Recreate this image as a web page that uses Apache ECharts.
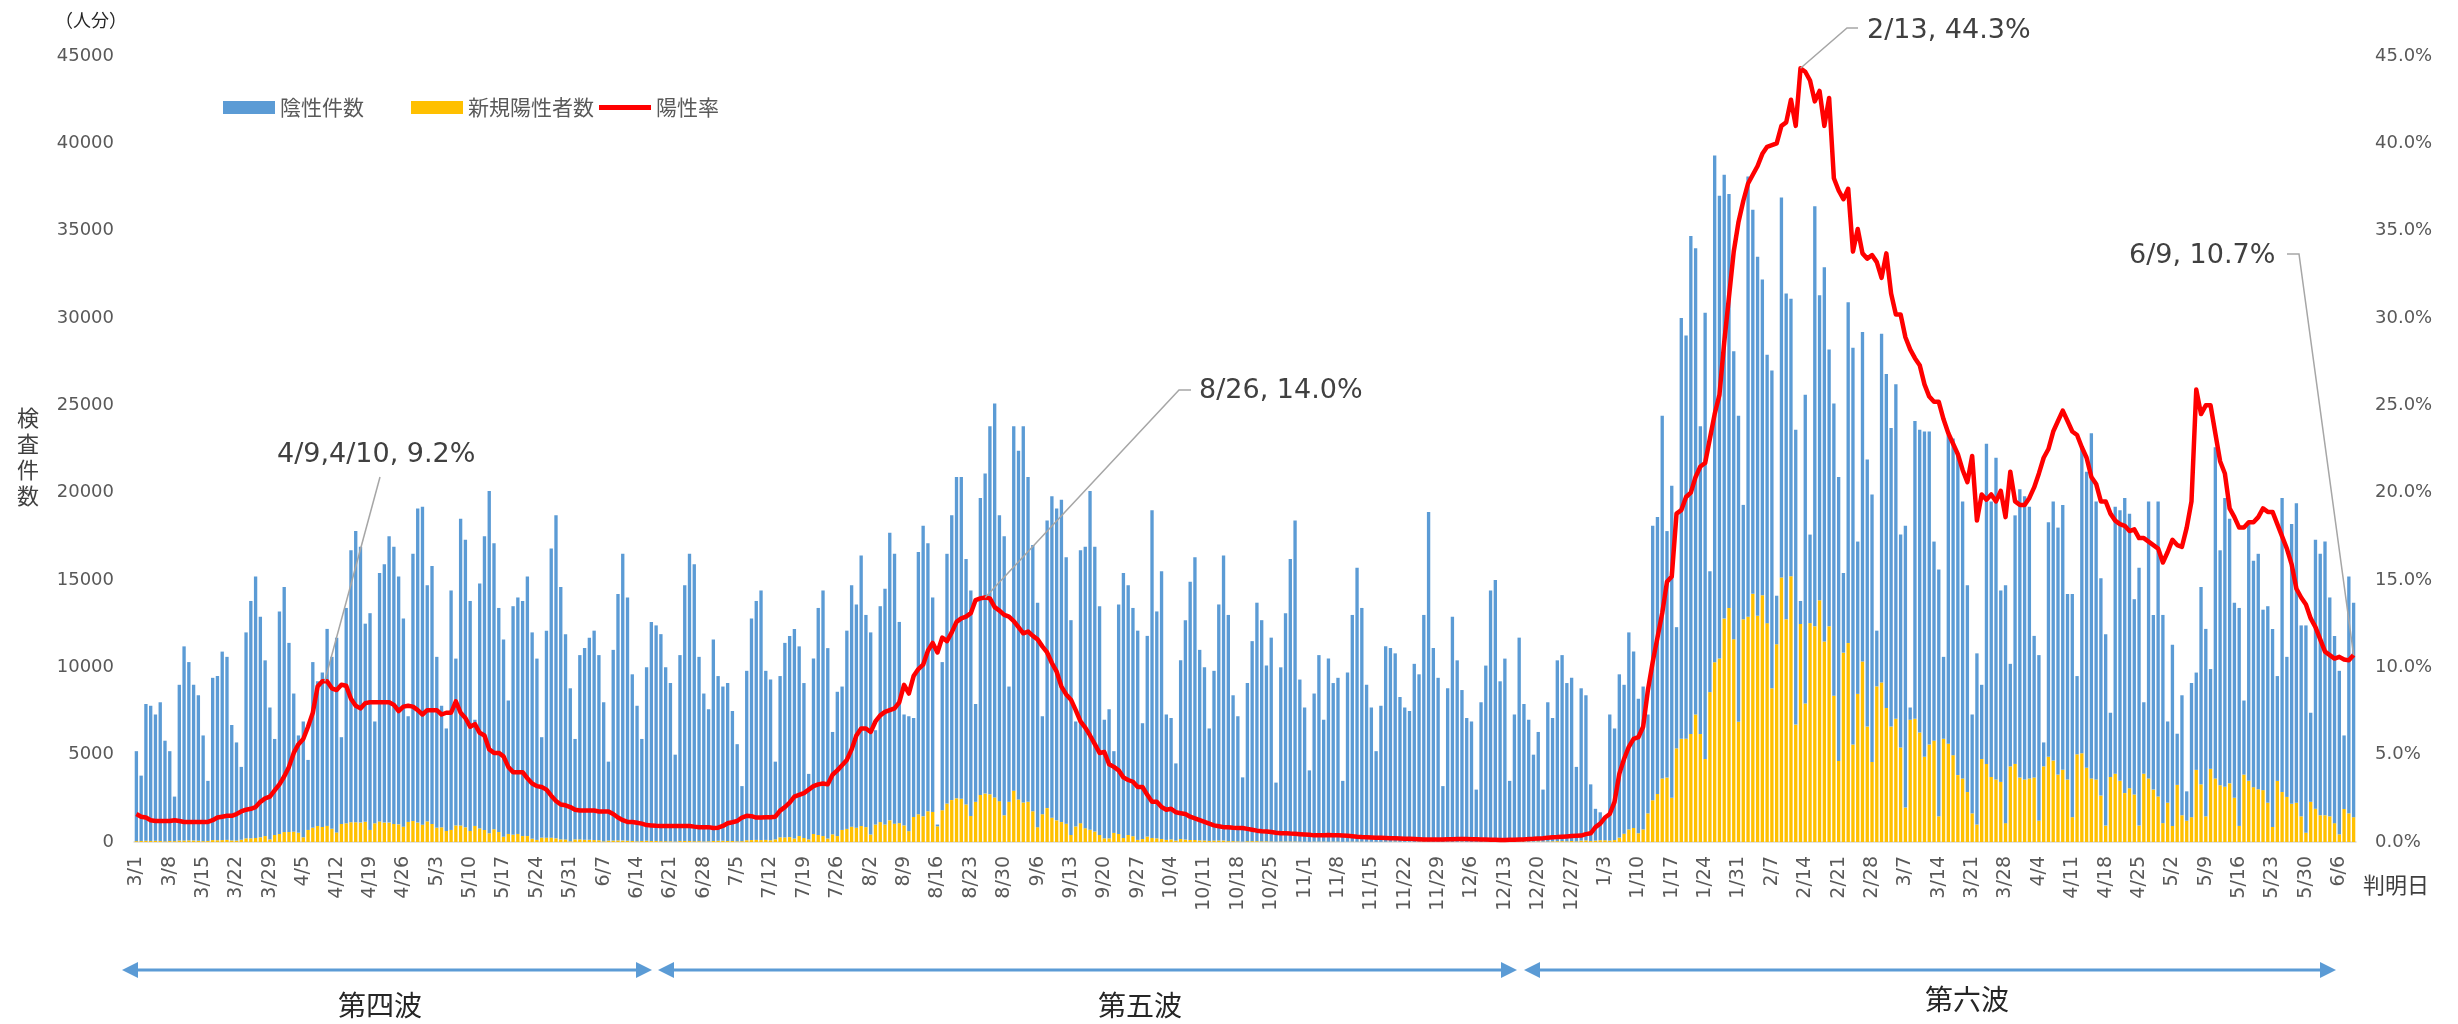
<!DOCTYPE html>
<html>
<head>
<meta charset="utf-8">
<title>検査件数と陽性率</title>
<script src="https://cdn.jsdelivr.net/npm/echarts@6/dist/echarts.min.js"></script>
<style>
	html, body { margin: 0; padding: 0; background: #fff; }
	#myChart { width: 2458px; height: 1024px; }
</style>
</head>
<body>
<div id="myChart"></div>
<script type="text/javascript">
// 判明日 2021/3/1 ～ 2022/6/9（1行 = 1週、月曜始まり）
const startDay = [2021, 2, 1];

// 検査件数（棒の高さ = 陰性件数 + 新規陽性者数）
const totalTests = [
	5200, 3800, 7900, 7800, 7300, 8000, 5800,
	5200, 2600, 9000, 11200, 10300, 9000, 8400,
	6100, 3500, 9400, 9500, 10900, 10600, 6700,
	5700, 4300, 12000, 13800, 15200, 12900, 10400,
	7700, 5900, 13200, 14600, 11400, 8500, 6100,
	6900, 4700, 10300, 9200, 9700, 12200, 10600,
	11700, 6000, 13400, 16700, 17800, 16900, 12500,
	13100, 6900, 15400, 15900, 17500, 16900, 15200,
	12800, 7200, 16500, 19100, 19200, 14700, 15800,
	10600, 7800, 6500, 14400, 10500, 18500, 17300,
	13800, 7000, 14800, 17500, 20100, 17100, 13400,
	11600, 8100, 13500, 14000, 13800, 15200, 12000,
	10500, 6000, 12100, 16800, 18700, 14600, 11900,
	8800, 5900, 10700, 11100, 11700, 12100, 10700,
	8000, 4600, 11000, 14200, 16500, 14000, 9600,
	7800, 5900, 10000, 12600, 12400, 11900, 10000,
	9100, 5000, 10700, 14700, 16500, 15900, 10600,
	8500, 7600, 11600, 9500, 8900, 9100, 7500,
	5600, 3200, 9800, 12800, 13800, 14400, 9800,
	9300, 4600, 9500, 11400, 11800, 12200, 11200,
	9100, 3900, 10500, 13400, 14400, 11100, 6300,
	8600, 8900, 12100, 14700, 13600, 16400, 13000,
	12000, 6400, 13500, 14500, 17700, 16500, 12600,
	7300, 7200, 7100, 16600, 18100, 17100, 14000,
	1000, 10300, 16500, 18700, 20900, 20900, 16200,
	14400, 7900, 19700, 21100, 23800, 25100, 18700,
	17500, 8900, 23800, 22400, 23800, 20900, 17000,
	13700, 7200, 18400, 19800, 19100, 19600, 16300,
	12700, 6900, 16700, 16900, 20100, 16900, 13500,
	7000, 7600, 5200, 13600, 15400, 14700, 13400,
	12100, 6800, 11800, 19000, 13200, 15500, 7300,
	7100, 4500, 10400, 12700, 14900, 16300, 11000,
	10000, 6500, 9800, 13600, 16400, 13000, 8400,
	7200, 3700, 9100, 11500, 13700, 12700, 10100,
	11700, 3400, 10000, 13100, 16200, 18400, 9300,
	7700, 4100, 8500, 10700, 7000, 10500, 9100,
	9400, 3500, 9700, 13000, 15700, 13400, 9000,
	7700, 5200, 7800, 11200, 11100, 10800, 8300,
	7700, 7500, 10200, 9600, 13000, 18900, 11100,
	9400, 3200, 8800, 12900, 10400, 8700, 7100,
	6900, 3000, 8000, 10100, 14400, 15000, 9200,
	10500, 3500, 7300, 11700, 7900, 7000, 5000,
	6300, 3000, 8000, 7100, 10400, 10700, 9100,
	9400, 4300, 8800, 8400, 3300, 1900, 1700,
	1400, 7300, 6500, 9600, 9000, 12000, 10900,
	8200, 8900, 7300, 18100, 18600, 24400, 17800,
	20400, 12300, 30000, 29000, 34700, 34000, 23800,
	30300, 15500, 39300, 37000, 38200, 37100, 28100,
	24400, 19300, 38100, 36200, 33500, 32200, 27900,
	27000, 14100, 36900, 31400, 31100, 23600, 13800,
	25600, 17600, 36400, 31300, 32900, 28200, 25100,
	20900, 15400, 30900, 28300, 17200, 29200, 21900,
	19900, 12100, 29100, 26800, 23700, 26200, 17600,
	18100, 7700, 24100, 23600, 23500, 23500, 17200,
	15600, 10600, 23300, 23100, 22100, 19500, 14700,
	7300, 10800, 9000, 22800, 19500, 22000, 14400,
	14700, 10200, 18700, 20200, 19800, 19200, 11800,
	10700, 5700, 18300, 19500, 18000, 19300, 14200,
	14200, 9500, 22600, 21200, 23400, 19500, 15100,
	11900, 7400, 19200, 19000, 19700, 18800, 13900,
	15700, 8000, 19500, 13000, 19500, 13000, 6900,
	11300, 6200, 8400, 2900, 9100, 9700, 14600,
	12200, 9900, 22600, 16700, 19700, 18500, 13700,
	13400, 8100, 18200, 16100, 16500, 13300, 13500,
	12200, 9500, 19700, 10600, 18200, 19400, 12400,
	12400, 7400, 17300, 16500, 17200, 14000, 11800,
	9800, 6100, 15200, 13700
];

// 新規陽性者数
const newPositives = [
	50, 60, 70, 60, 70, 60, 40,
	60, 50, 80, 80, 90, 80, 70,
	50, 60, 110, 100, 110, 120, 90,
	80, 130, 210, 210, 230, 270, 340,
	150, 400, 460, 570, 570, 590, 530,
	270, 690, 820, 920, 860, 920, 760,
	550, 1030, 1070, 1130, 1130, 1110, 1160,
	690, 1070, 1180, 1110, 1110, 1030, 1010,
	880, 1150, 1200, 1110, 990, 1180, 1030,
	820, 840, 630, 690, 950, 950, 840,
	630, 920, 780, 690, 500, 730, 570,
	300, 460, 420, 460, 340, 340, 190,
	120, 250, 250, 250, 210, 150, 150,
	40, 150, 150, 130, 130, 110, 100,
	40, 80, 80, 90, 80, 70, 60,
	40, 60, 70, 60, 60, 50, 50,
	40, 30, 60, 60, 60, 50, 50,
	30, 40, 60, 70, 70, 60, 60,
	40, 50, 100, 110, 120, 110, 120,
	100, 150, 270, 260, 280, 200, 340,
	230, 150, 460, 400, 340, 200, 440,
	340, 690, 750, 880, 820, 920, 850,
	430, 1000, 1140, 1000, 1240, 1050, 1080,
	950, 620, 1430, 1590, 1470, 1760, 1720,
	900, 1820, 2200, 2400, 2500, 2480, 2150,
	1490, 2300, 2690, 2770, 2730, 2550, 2340,
	1530, 2300, 2940, 2440, 2260, 2300, 1760,
	850, 1590, 1940, 1390, 1240, 1140, 1050,
	400, 890, 1080, 790, 700, 600, 400,
	210, 210, 520, 460, 230, 400, 330,
	120, 170, 310, 230, 210, 170, 120,
	150, 80, 170, 140, 120, 120, 90,
	90, 60, 80, 80, 80, 50, 50,
	40, 20, 50, 50, 50, 40, 40,
	30, 20, 30, 30, 30, 30, 20,
	20, 10, 20, 20, 20, 20, 20,
	20, 10, 10, 20, 20, 20, 10,
	10, 10, 10, 20, 10, 20, 10,
	10, 10, 10, 20, 20, 20, 10,
	10, 10, 10, 20, 10, 20, 10,
	10, 10, 10, 20, 20, 20, 20,
	20, 10, 20, 30, 30, 20, 20,
	30, 20, 30, 40, 50, 50, 40,
	60, 40, 80, 90, 60, 80, 100,
	100, 80, 110, 250, 470, 720, 800,
	500, 720, 1640, 2390, 2750, 3640, 3690,
	2530, 5360, 5910, 5910, 6190, 7300, 6180,
	4750, 8580, 10290, 10510, 12790, 13400, 11610,
	6880, 12750, 12900, 14210, 12960, 14130, 12530,
	8800, 11320, 15150, 12750, 15220, 6720, 12480,
	7930, 12530, 12350, 13840, 11480, 12350, 8370,
	4640, 10840, 11390, 5580, 8480, 10340, 6610,
	4580, 8910, 9130, 7670, 6610, 7050, 5410,
	1970, 7000, 7050, 6270, 4880, 5580, 5800,
	1470, 5910, 5630, 4970, 3830, 3640, 2860,
	1640, 1000, 4750, 4470, 3720, 3580, 3440,
	1080, 4330, 4470, 3690, 3580, 3640, 3690,
	1220, 4330, 4880, 4660, 3860, 4130, 3580,
	1420, 5020, 5080, 4250, 3640, 3580, 2660,
	940, 3720, 3910, 3500, 2800, 3080, 2720,
	940, 3910, 3640, 3000, 2610, 1080, 2250,
	920, 3270, 1530, 1220, 1420, 4130, 3300,
	1470, 4190, 3640, 3250, 3160, 3360, 2530,
	920, 3860, 3500, 3140, 3020, 2970, 2250,
	860, 3500, 2860, 2580, 2190, 2250, 1470,
	530, 2300, 1910, 1530, 1530, 1470, 1080,
	440, 1890, 1640, 1420
];

// 陽性率（%）
const positiveRate = [
	1.6, 1.45, 1.4, 1.25, 1.2, 1.2, 1.2,
	1.2, 1.25, 1.2, 1.15, 1.15, 1.15, 1.15,
	1.15, 1.15, 1.25, 1.4, 1.45, 1.5, 1.5,
	1.6, 1.75, 1.85, 1.9, 2.0, 2.3, 2.5,
	2.6, 2.95, 3.3, 3.75, 4.3, 5.1, 5.6,
	5.9, 6.6, 7.4, 8.9, 9.2, 9.2, 8.8,
	8.7, 9.0, 8.95, 8.2, 7.8, 7.65, 7.95,
	8.0, 8.0, 8.0, 8.0, 8.0, 7.85, 7.5,
	7.75, 7.8, 7.75, 7.55, 7.3, 7.55, 7.55,
	7.55, 7.3, 7.4, 7.4, 8.05, 7.4, 7.1,
	6.6, 6.75, 6.25, 6.1, 5.3, 5.1, 5.1,
	4.9, 4.3, 4.0, 4.0, 4.0, 3.65, 3.35,
	3.2, 3.15, 3.0, 2.65, 2.35, 2.15, 2.1,
	2.0, 1.85, 1.8, 1.8, 1.8, 1.8, 1.75,
	1.75, 1.75, 1.6, 1.4, 1.25, 1.15, 1.15,
	1.1, 1.05, 0.97, 0.95, 0.93, 0.92, 0.92,
	0.92, 0.92, 0.92, 0.92, 0.92, 0.88, 0.85,
	0.85, 0.85, 0.8, 0.82, 0.92, 1.07, 1.13,
	1.2, 1.4, 1.5, 1.48, 1.4, 1.4, 1.42,
	1.42, 1.45, 1.8, 2.0, 2.25, 2.6, 2.7,
	2.8, 3.0, 3.2, 3.3, 3.35, 3.3, 3.85,
	4.1, 4.4, 4.7, 5.3, 6.1, 6.5, 6.5,
	6.3, 6.9, 7.25, 7.45, 7.55, 7.65, 8.0,
	9.0, 8.5, 9.5, 9.9, 10.15, 10.95, 11.4,
	10.85, 11.7, 11.5, 12.0, 12.6, 12.8, 12.9,
	13.1, 13.85, 13.95, 14.0, 13.95, 13.45, 13.25,
	13.0, 12.9, 12.65, 12.3, 11.95, 12.05, 11.8,
	11.6, 11.2, 10.85, 10.25, 9.75, 8.9, 8.45,
	8.15, 7.55, 6.9, 6.55, 6.1, 5.6, 5.1,
	5.15, 4.45, 4.3, 4.1, 3.7, 3.55, 3.45,
	3.15, 3.15, 2.7, 2.3, 2.3, 2.0, 1.85,
	1.9, 1.7, 1.65, 1.6, 1.45, 1.35, 1.25,
	1.15, 1.05, 0.95, 0.9, 0.85, 0.85, 0.82,
	0.8, 0.8, 0.75, 0.7, 0.65, 0.62, 0.6,
	0.57, 0.53, 0.5, 0.5, 0.48, 0.47, 0.45,
	0.43, 0.41, 0.38, 0.38, 0.39, 0.4, 0.39,
	0.38, 0.37, 0.36, 0.33, 0.3, 0.28, 0.27,
	0.26, 0.25, 0.24, 0.23, 0.22, 0.21, 0.2,
	0.19, 0.18, 0.17, 0.16, 0.15, 0.14, 0.14,
	0.15, 0.15, 0.16, 0.16, 0.17, 0.17, 0.17,
	0.16, 0.16, 0.15, 0.14, 0.13, 0.13, 0.12,
	0.12, 0.13, 0.13, 0.14, 0.15, 0.17, 0.18,
	0.2, 0.22, 0.25, 0.27, 0.28, 0.3, 0.32,
	0.34, 0.36, 0.37, 0.45, 0.5, 0.85, 1.05,
	1.4, 1.6, 2.3, 3.9, 4.75, 5.45, 5.9,
	6.0, 6.6, 8.7, 10.3, 11.7, 13.1, 14.9,
	15.2, 18.8, 19.0, 19.75, 20.0, 20.9, 21.5,
	21.7, 23.1, 24.5, 25.6, 28.6, 31.2, 33.8,
	35.5, 36.7, 37.7, 38.2, 38.7, 39.4, 39.8,
	39.9, 40.0, 41.0, 41.2, 42.5, 41.0, 44.3,
	44.1, 43.6, 42.4, 43.0, 41.0, 42.6, 38.0,
	37.3, 36.8, 37.4, 33.8, 35.1, 33.7, 33.4,
	33.6, 33.2, 32.3, 33.7, 31.4, 30.2, 30.2,
	28.9, 28.2, 27.7, 27.3, 26.2, 25.5, 25.2,
	25.2, 24.2, 23.4, 22.8, 22.2, 21.3, 20.6,
	22.1, 18.4, 19.9, 19.6, 19.9, 19.5, 20.1,
	18.6, 21.2, 19.5, 19.3, 19.3, 19.7, 20.3,
	21.1, 22.0, 22.5, 23.5, 24.1, 24.7, 24.1,
	23.5, 23.3, 22.6, 22.0, 20.9, 20.5, 19.5,
	19.5, 18.8, 18.4, 18.2, 18.1, 17.8, 17.9,
	17.4, 17.4, 17.2, 17.0, 16.8, 16.0, 16.6,
	17.3, 17.0, 16.9, 18.0, 19.5, 25.9, 24.5,
	25.0, 25.0, 23.4, 21.8, 21.1, 19.1, 18.6,
	18.0, 18.0, 18.3, 18.3, 18.6, 19.1, 18.9,
	18.9, 18.2, 17.5, 16.8, 15.9, 14.5, 14.0,
	13.6, 12.8, 12.3, 11.6, 10.9, 10.7, 10.5,
	10.6, 10.45, 10.4, 10.7
];

// 吹き出し（日付インデックス、表示文字）
const callouts = [
	{ idx: [39, 40], text: '4/9,4/10, 9.2%' },
	{ idx: [178], text: '8/26, 14.0%' },
	{ idx: [349], text: '2/13, 44.3%' },
	{ idx: [465], text: '6/9, 10.7%' }
];

// 波の区切り
const waves = ['第四波', '第五波', '第六波'];

const numFont = "'DejaVu Sans', Verdana, sans-serif";
const jpFont = "'Noto Sans CJK JP', 'Noto Sans', sans-serif";

let dates = [];
for (let i = 0; i < totalTests.length; i++) {
	let d = new Date(startDay[0], startDay[1], startDay[2] + i);
	dates.push((d.getMonth() + 1) + '/' + d.getDate());
}
let negatives = totalTests.map((t, i) => Math.max(0, t - newPositives[i]));

// 凡例は Excel 風に間隔が不揃いなので1項目ずつ置く
function legendItem(name, left, icon) {
	return {
		data: [{ name: name, icon: icon }],
		left: left,
		top: 97,
		padding: 0,
		itemWidth: 52,
		itemHeight: 13,
		textStyle: { fontFamily: jpFont, fontSize: 21, color: '#595959' }
	};
}

let myChart = echarts.init(document.getElementById('myChart'));
myChart.setOption({
	animation: false,
	backgroundColor: '#fff',
	grid: { left: 134, right: 102, top: 56, bottom: 182, containLabel: false },
	legend: [
		legendItem('陰性件数', 223, 'rect'),
		legendItem('新規陽性者数', 411, 'rect'),
		legendItem('陽性率', 599, 'path://M0,0 L52,0 L52,5 L0,5 Z')
	],
	xAxis: {
		type: 'category',
		data: dates,
		axisLine: { lineStyle: { color: '#D9D9D9', width: 1.5 } },
		axisTick: { show: false },
		axisLabel: {
			interval: 6,
			rotate: 90,
			margin: 14,
			fontFamily: numFont,
			fontSize: 19,
			color: '#595959'
		},
		splitLine: { show: false }
	},
	yAxis: [{
		type: 'value',
		min: 0,
		max: 45000,
		interval: 5000,
		axisLine: { show: false },
		axisTick: { show: false },
		splitLine: { show: false },
		axisLabel: {
			margin: 20,
			fontFamily: numFont,
			fontSize: 18,
			color: '#595959',
			formatter: v => String(v)
		}
	}, {
		type: 'value',
		min: 0,
		max: 45,
		interval: 5,
		axisLine: { show: false },
		axisTick: { show: false },
		splitLine: { show: false },
		axisLabel: {
			margin: 19,
			fontFamily: numFont,
			fontSize: 18,
			color: '#595959',
			formatter: v => v.toFixed(1) + '%'
		}
	}],
	series: [{
		name: '新規陽性者数',
		type: 'bar',
		stack: 'tests',
		data: newPositives,
		barCategoryGap: '30%',
		itemStyle: { color: '#FFC000' }
	}, {
		name: '陰性件数',
		type: 'bar',
		stack: 'tests',
		data: negatives,
		itemStyle: { color: '#5B9BD5' }
	}, {
		name: '陽性率',
		type: 'line',
		yAxisIndex: 1,
		data: positiveRate,
		symbol: 'none',
		z: 5,
		itemStyle: { color: '#FF0000' },
		lineStyle: { color: '#FF0000', width: 4.5, join: 'round' }
	}]
});

// 吹き出しの位置（文字の左端・中央高さ、引き出し線の折れ点）
const calloutLayout = [
	{ tx: 277, ty: 455, path: [[380, 477]] },
	{ tx: 1199, ty: 391, path: [[1191, 390], [1179, 390]] },
	{ tx: 1867, ty: 31, path: [[1858, 28], [1847, 28]] },
	{ tx: 2129, ty: 256, path: [[2287, 254], [2299, 254]] }
];

let graphics = [];
callouts.forEach((c, k) => {
	let pts = c.idx.map(i => myChart.convertToPixel({ seriesIndex: 2 }, [i, positiveRate[i]]));
	let px = pts.reduce((s, p) => s + p[0], 0) / pts.length;
	let py = pts.reduce((s, p) => s + p[1], 0) / pts.length;
	let lay = calloutLayout[k];
	graphics.push({
		type: 'polyline',
		shape: { points: lay.path.concat([[px, py]]) },
		style: { stroke: '#A6A6A6', lineWidth: 1.5, fill: null },
		z: 10
	});
	graphics.push({
		type: 'text',
		x: lay.tx,
		y: lay.ty,
		style: { text: c.text, font: '27px ' + numFont, fill: '#404040', textVerticalAlign: 'middle' },
		z: 10
	});
});

// 軸の単位など
graphics.push({
	type: 'text', x: 55, y: 20,
	style: { text: '（人分）', font: '18px ' + jpFont, fill: '#262626', textVerticalAlign: 'middle' }
});
graphics.push({
	type: 'text', x: 28, y: 457,
	style: { text: '検\n査\n件\n数', font: '22px ' + jpFont, fill: '#404040', textAlign: 'center', textVerticalAlign: 'middle', lineHeight: 26 }
});
graphics.push({
	type: 'text', x: 2363, y: 885,
	style: { text: '判明日', font: '22px ' + jpFont, fill: '#404040', textVerticalAlign: 'middle' }
});

// 波の矢印
const arrowSpans = [[122, 652], [658, 1517], [1524, 2336]];
const waveLabelPos = [[380, 1005], [1140, 1005], [1967, 999]];
const arrowY = 970;
arrowSpans.forEach((s, k) => {
	graphics.push({
		type: 'line',
		shape: { x1: s[0] + 10, y1: arrowY, x2: s[1] - 10, y2: arrowY },
		style: { stroke: '#5B9BD5', lineWidth: 3 }
	});
	graphics.push({
		type: 'polygon',
		shape: { points: [[s[0], arrowY], [s[0] + 16, arrowY - 8], [s[0] + 16, arrowY + 8]] },
		style: { fill: '#5B9BD5' }
	});
	graphics.push({
		type: 'polygon',
		shape: { points: [[s[1], arrowY], [s[1] - 16, arrowY - 8], [s[1] - 16, arrowY + 8]] },
		style: { fill: '#5B9BD5' }
	});
	graphics.push({
		type: 'text',
		x: waveLabelPos[k][0],
		y: waveLabelPos[k][1],
		style: { text: waves[k], font: '28px ' + jpFont, fill: '#262626', textAlign: 'center', textVerticalAlign: 'middle' }
	});
});

myChart.setOption({ graphic: graphics });
</script>
</body>
</html>
